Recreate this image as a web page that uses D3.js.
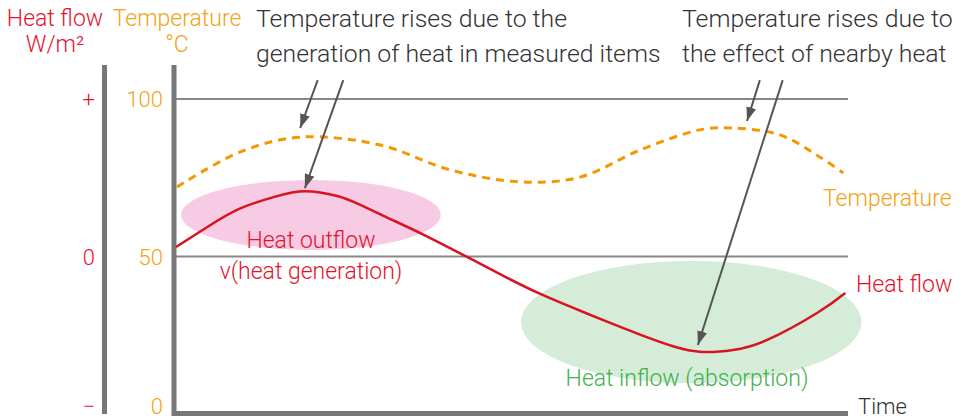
<!DOCTYPE html>
<html lang="en">
<head>
<meta charset="UTF-8">
<script src="https://d3js.org/d3.v7.min.js"></script>
<style>
  body { margin: 0; background: #fff; }
  svg text { font-family: Roboto, "Liberation Sans", sans-serif; font-weight: 300; }
</style>
</head>
<body>
<div id="chart"></div>
<script>
const width = 966;
const height = 420;

// temperature (dashed) : time 0..100, degC
const tempTime = [0.3, 9.7, 18.6, 30.5, 40.9, 51.3, 60.2, 69.1, 78, 82.5, 89.9, 95.8, 99.3];
const tempValue = [72.1, 83.2, 87.9, 85.4, 77.5, 73.7, 75.2, 83.8, 90.2, 90.8, 88.6, 81.6, 76.5];

// heat flow (red) : -100 = "−", 0, 100 = "+"
const flowTime = [0.15, 4.8, 9.7, 14.9, 19.3, 24.1, 27.3, 32.0, 36.9, 43.4, 49.3, 54.2, 59.1, 64.2, 69.1, 74.0, 78.3, 82.9, 88, 95.4, 99.6];
const flowValue = [6, 18.7, 30.5, 38.0, 41.4, 38.4, 33.2, 23.8, 13.9, -0.3, -13.4, -23.6, -32.5, -41.4, -49.6, -57.0, -60.6, -59.4, -53, -35.9, -23.2];

const tempTicks = [0, 50, 100];
const flowTicks = [-100, 0, 100];
const flowTickLabels = ["\u2212", "0", "+"];

// annotation arrows [t0, temp0, t1, temp1]
const arrows = [
  [21.2, 106, 18.6, 90.8],
  [25.0, 106, 19.3, 71.7],
  [86.9, 106, 85.0, 93.0],
  [90.3, 106, 77.7, 21.9]
];

// highlight ellipses [time, temp, rxTime, ryTemp]
const zones = [
  { c: [20.2, 63.2, 19.3, 11.1], fill: "#f7cbe3" },
  { c: [76.7, 29.2, 25.3, 19.4], fill: "#d5ecd8" }
];

const red = "#e5122d";
const orange = "#f5a214";
const gray = "#777";

const svg = d3.select("#chart").append("svg")
  .attr("width", width)
  .attr("height", height);

const x = d3.scaleLinear().domain([0, 100]).range([175, 848]);
const yT = d3.scaleLinear().domain([0, 100]).range([414, 99]);
const yF = d3.scaleLinear().domain([-100, 100]).range([414, 99]);

// marker
svg.append("defs").append("marker")
  .attr("id", "head")
  .attr("viewBox", "0 -5 14 10")
  .attr("refX", 14).attr("refY", 0)
  .attr("markerWidth", 14).attr("markerHeight", 10)
  .attr("markerUnits", "userSpaceOnUse")
  .attr("orient", "auto")
  .append("path")
  .attr("d", "M0,-5L14,0L0,5Z")
  .attr("fill", "#555");

// ellipses
svg.selectAll(".zone").data(zones).enter().append("ellipse")
  .attr("cx", d => x(d.c[0]))
  .attr("cy", d => yT(d.c[1]))
  .attr("rx", d => x(d.c[2]) - x(0))
  .attr("ry", d => yT(0) - yT(d.c[3]))
  .attr("fill", d => d.fill);

// gridlines at 50 and 100
svg.selectAll(".grid").data([50, 100]).enter().append("line")
  .attr("x1", x(0)).attr("x2", x(100))
  .attr("y1", d => yT(d)).attr("y2", d => yT(d))
  .attr("stroke", "#888").attr("stroke-width", 2);

// axes
svg.append("line").attr("x1", 104.5).attr("x2", 104.5).attr("y1", 65).attr("y2", 414)
  .attr("stroke", gray).attr("stroke-width", 5);
svg.append("path")
  .attr("d", `M174,65V413.5H${x(100)}`)
  .attr("fill", "none").attr("stroke", gray).attr("stroke-width", 5);

// tick labels
svg.selectAll(".tt").data(tempTicks).enter().append("text")
  .attr("x", 163).attr("y", d => Math.min(yT(d) + 8, 414))
  .attr("text-anchor", "end").attr("font-size", 22)
  .attr("fill", orange).text(d => d);
svg.selectAll(".ft").data(flowTicks).enter().append("text")
  .attr("x", 95).attr("y", d => Math.min(yF(d) + 8, 414))
  .attr("text-anchor", "end").attr("font-size", 22)
  .attr("fill", red).text((d, i) => flowTickLabels[i]);

// axis titles
svg.append("text").attr("x", 55).attr("y", 26).attr("text-anchor", "middle")
  .attr("font-size", 23).attr("fill", red).text("Heat flow");
svg.append("text").attr("x", 55).attr("y", 52).attr("text-anchor", "middle")
  .attr("font-size", 23).attr("fill", red).text("W/m\u00b2");
svg.append("text").attr("x", 177).attr("y", 26).attr("text-anchor", "middle")
  .attr("font-size", 23).attr("fill", orange).text("Temperature");
svg.append("text").attr("x", 177).attr("y", 52).attr("text-anchor", "middle")
  .attr("font-size", 23).attr("fill", orange).text("\u00b0C");

// temperature line
const tempData = tempTime.map((t, i) => [t, tempValue[i]]);
svg.append("path").datum(tempData)
  .attr("d", d3.line().x(d => x(d[0])).y(d => yT(d[1])).curve(d3.curveCatmullRom))
  .attr("fill", "none").attr("stroke", "#f39800")
  .attr("stroke-width", 3).attr("stroke-dasharray", "8,6");

// heat flow line
const flowData = flowTime.map((t, i) => [t, flowValue[i]]);
svg.append("path").datum(flowData)
  .attr("d", d3.line().x(d => x(d[0])).y(d => yF(d[1])).curve(d3.curveNatural))
  .attr("fill", "none").attr("stroke", "#d7141f")
  .attr("stroke-width", 2.5);

// arrows
svg.selectAll(".arrow").data(arrows).enter().append("line")
  .attr("x1", d => x(d[0])).attr("y1", d => yT(d[1]))
  .attr("x2", d => x(d[2])).attr("y2", d => yT(d[3]))
  .attr("stroke", "#555").attr("stroke-width", 2)
  .attr("marker-end", "url(#head)");

// annotation texts
const note = (tx, ty, s) => svg.append("text")
  .attr("x", tx).attr("y", ty).attr("font-size", 24.8)
  .attr("fill", "#333").text(s);

note(256, 27, "Temperature rises due to the");
note(256, 62, "generation of heat in measured items");
note(682, 27, "Temperature rises due to");
note(682, 62, "the effect of nearby heat");

svg.append("text").attr("x", 823).attr("y", 206).attr("font-size", 23)
  .attr("fill", orange).text("Temperature");
svg.append("text").attr("x", 856).attr("y", 292).attr("font-size", 23)
  .attr("fill", red).text("Heat flow");
svg.append("text").attr("x", 858).attr("y", 414).attr("font-size", 22)
  .attr("fill", "#333").text("Time");
svg.append("text").attr("x", 311).attr("y", 248).attr("font-size", 23)
  .attr("text-anchor", "middle").attr("fill", red).text("Heat outflow");
svg.append("text").attr("x", 311).attr("y", 279).attr("font-size", 23)
  .attr("text-anchor", "middle").attr("fill", red).text("v(heat generation)");
svg.append("text").attr("x", 687).attr("y", 386).attr("font-size", 23)
  .attr("text-anchor", "middle").attr("fill", "#43b04a").text("Heat inflow (absorption)");
</script>
</body>
</html>
